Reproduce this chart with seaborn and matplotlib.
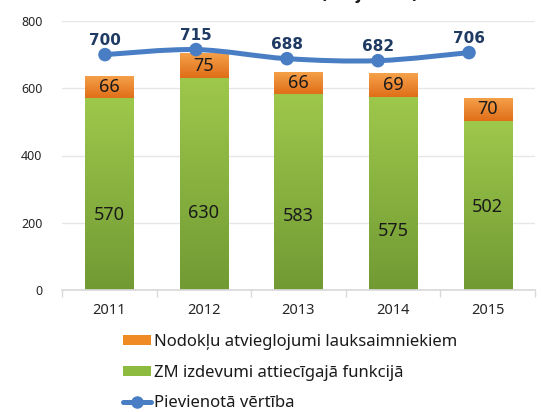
import numpy as np
import pandas as pd
import matplotlib
matplotlib.use("Agg")
import matplotlib.pyplot as plt
import seaborn as sns
from matplotlib.path import Path
from matplotlib.patches import PathPatch, Patch
from matplotlib.lines import Line2D
from matplotlib.colors import LinearSegmentedColormap
from matplotlib.ticker import FixedLocator

# ---- data ----
years = ["2011", "2012", "2013", "2014", "2015"]
zm_spending = [570, 630, 583, 575, 502]
tax_relief = [66, 75, 66, 69, 70]
added_value = [700, 715, 688, 682, 706]
series_labels = ["Nodokļu atvieglojumi lauksaimniekiem",
                 "ZM izdevumi attiecīgajā funkcijā",
                 "Pievienotā vērtība"]
y_ticks = [0, 200, 400, 600, 800]
title_text = "(milj. EUR)"
# label placement for the green segment values (as in the original)
green_label_pos = [223, 230, 221, 176, 248]

sns.set_theme(style="white")
plt.rcParams['font.family'] = ['Noto Sans', 'DejaVu Sans']

ORANGE = "#f08a24"
GREEN = "#8cbb3f"
BLUE = "#4a7ec4"
NAVY = "#1f3a63"

fig = plt.figure(figsize=(5.42, 4.12), dpi=100)
ax = fig.add_axes([62/542, 1-290/412, 473/542, 269/412])

df = pd.DataFrame({"year": years, "zm": zm_spending, "tax": tax_relief})
df["total"] = df["zm"] + df["tax"]

sns.barplot(data=df, x="year", y="total", color=ORANGE, width=0.51, ax=ax,
            saturation=1, zorder=2)
sns.barplot(data=df, x="year", y="zm", color=GREEN, width=0.51, ax=ax,
            saturation=1, zorder=4)

orange_cmap = LinearSegmentedColormap.from_list("o", ["#e06e18", "#f6a24c"])
green_cmap = LinearSegmentedColormap.from_list("g", ["#719a34", "#9ec84b"])
grad = np.linspace(0, 1, 256).reshape(-1, 1)

patches = list(ax.patches)
n = len(years)
for i, p in enumerate(patches):
    x0, w = p.get_x(), p.get_width()
    y0, h = p.get_y(), p.get_height()
    if i < n:
        lo = zm_spending[i]
        im = ax.imshow(grad, cmap=orange_cmap, origin="lower", aspect="auto",
                       extent=[x0, x0 + w, lo, y0 + h], zorder=3)
    else:
        im = ax.imshow(grad, cmap=green_cmap, origin="lower", aspect="auto",
                       extent=[x0, x0 + w, y0, y0 + h], zorder=5)
    im.set_clip_path(p)
    p.set_edgecolor("none")

ax.set_xlim(-0.5, n - 0.5)
ax.set_ylim(0, 800)
ax.set_yticks(y_ticks)
ax.set_yticklabels([str(v) for v in y_ticks], fontsize=9, color="#262626")
ax.set_xticks(range(n))
ax.set_xticklabels(years, fontsize=10.5, color="#262626")
ax.set_xlabel("")
ax.set_ylabel("")
ax.tick_params(axis="y", length=0, pad=14)
ax.tick_params(axis="x", which="major", length=0, pad=9)
ax.xaxis.set_minor_locator(FixedLocator(np.arange(-0.5, n, 1.0)))
ax.tick_params(axis="x", which="minor", length=5, width=1, color="#d9d9d9",
               direction="out")
ax.grid(axis="y", color="#e6e6e6", linewidth=1)
ax.set_axisbelow(True)
for s in ["left", "right", "top"]:
    ax.spines[s].set_visible(False)
ax.spines["bottom"].set_color("#d9d9d9")
ax.spines["bottom"].set_zorder(6)

# bar value labels
for i in range(n):
    ax.text(i, zm_spending[i] + tax_relief[i] / 2, str(tax_relief[i]),
            ha="center", va="center", fontsize=13, color="#1a1a1a", zorder=8)
    ax.text(i, green_label_pos[i], str(zm_spending[i]),
            ha="center", va="center", fontsize=13, color="#1a1a1a", zorder=8)

# line on a twin x axis (slightly compressed horizontally as in original)
ax2 = ax.twiny()
ax2.set_xlim(-0.4725, 4.725)
ax2.set_ylim(0, 800)
ax2.axis("off")
xs = np.arange(n, dtype=float)
ys = np.array(added_value, dtype=float)
P = np.column_stack([xs, ys])
Pe = np.vstack([P[0], P, P[-1]])
verts = [tuple(P[0])]
codes = [Path.MOVETO]
for k in range(n - 1):
    p0, p1, p2, p3 = Pe[k], Pe[k + 1], Pe[k + 2], Pe[k + 3]
    c1 = p1 + (p2 - p0) / 6.0
    c2 = p2 - (p3 - p1) / 6.0
    verts += [tuple(c1), tuple(c2), tuple(p2)]
    codes += [Path.CURVE4] * 3
ax2.add_patch(PathPatch(Path(verts, codes), facecolor="none", edgecolor=BLUE,
                        lw=3.6, capstyle="round", zorder=9))
line_df = pd.DataFrame({"x": xs, "v": ys})
sns.scatterplot(data=line_df, x="x", y="v", ax=ax2, s=95, color=BLUE,
                edgecolor="none", zorder=10, legend=False)
ax2.set_xlim(-0.4725, 4.725)
ax2.set_ylim(0, 800)
for i in range(n):
    ax2.annotate(str(added_value[i]), (xs[i], ys[i]), xytext=(0, 4.5),
                 textcoords="offset points", ha="center", va="bottom",
                 fontsize=11, fontweight="bold", family=["DejaVu Sans"],
                 color=NAVY, zorder=11)

# title, cut off at the very top as in the original
fig.text(370/542, 1.0 + 1/412, title_text, ha="center", va="baseline",
         fontsize=12, fontweight="bold", family=["DejaVu Sans"],
         color="#1a1a1a")

handles = [Patch(facecolor=ORANGE, edgecolor="none"),
           Patch(facecolor=GREEN, edgecolor="none"),
           Line2D([0], [0], color=BLUE, lw=3.6, marker="o", markersize=8)]
fig.legend(handles, series_labels, loc="upper left",
           bbox_to_anchor=(123/542, 1 - 334/412), frameon=False,
           fontsize=12, handlelength=1.65, handletextpad=0.2,
           handleheight=0.6,
           labelspacing=0.88, borderaxespad=0, borderpad=0,
           labelcolor="#1a1a1a")

fig.savefig("out.png", dpi=100)
